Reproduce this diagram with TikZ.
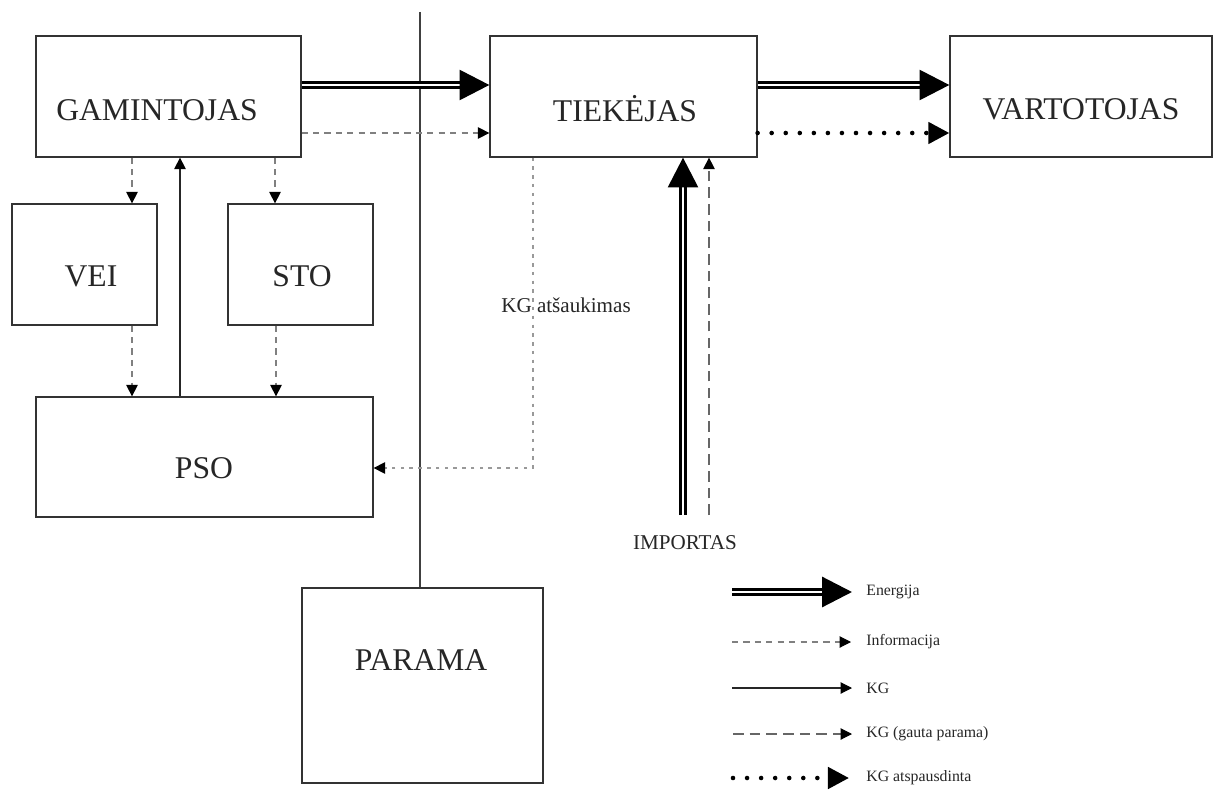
\documentclass[tikz,border=0pt]{standalone}
\usepackage{fontspec}
\setmainfont{Liberation Serif}
\usetikzlibrary{arrows.meta,fit}
\begin{document}
\begin{tikzpicture}[x=0.02cm,y=-0.02cm,
  box/.style={draw=black!80, line width=0.7pt, inner sep=0pt},
  boxtext/.style={font=\fontsize{18}{20}\selectfont, text=black!85, inner sep=0pt},
  small/.style={font=\fontsize{12}{14}\selectfont, text=black!85, inner sep=0pt},
  legtext/.style={font=\fontsize{9}{11}\selectfont, text=black!85, inner sep=0pt, anchor=west},
  energy/.style={draw=black, double=white, line width=1.8pt, double distance=1.1pt, -{Triangle[length=17pt,width=17pt]}},
  info/.style={draw=black!50, line width=0.6pt, dash pattern=on 3.5pt off 3pt, -{Triangle[length=6.5pt,width=6.5pt,color=black]}},
  kg/.style={draw=black!85, line width=0.6pt, -{Triangle[length=6.5pt,width=6.5pt,color=black]}},
  kgp/.style={draw=black!60, line width=0.6pt, dash pattern=on 6pt off 3.5pt, -{Triangle[length=6.5pt,width=6.5pt,color=black]}},
  kgd/.style={draw=black, line width=2.6pt, line cap=round, dash pattern=on 0pt off 8pt, -{Triangle[length=12pt,width=12pt]}},
  cancel/.style={draw=black!40, line width=0.6pt, dash pattern=on 2pt off 3pt, -{Triangle[length=6.5pt,width=6.5pt,color=black]}},
  sep/.style={draw=black!75, line width=0.6pt},
]
\useasboundingbox (0,0) rectangle (1214,794);
\fill[white] (0,0) rectangle (1214,794);

% boxes
\node[box, fit={(36,36) (301,157)}] (gam) {};
\node[box, fit={(490,36) (757,157)}] (tiek) {};
\node[box, fit={(950,36) (1212,157)}] (vart) {};
\node[box, fit={(12,204) (157,325)}] (vei) {};
\node[box, fit={(228,204) (373,325)}] (sto) {};
\node[box, fit={(36,397) (373,517)}] (pso) {};
\node[box, fit={(302,588) (543,783)}] (par) {};

% box texts
\node[boxtext] (gamT) at (157,110) {GAMINTOJAS};
\node[boxtext] (tiekT) at (625,109) {TIEKĖJAS};
\node[boxtext] (vartT) at (1081,109) {VARTOTOJAS};
\node[boxtext] (veiT) at (91,276) {VEI};
\node[boxtext] (stoT) at (302,276) {STO};
\node[boxtext] (psoT) at (204,468) {PSO};
\node[boxtext] (parT) at (421,660) {PARAMA};

% separator
\coordinate (sepTop) at (420,12);
\draw[sep] (sepTop) -- (par.north -| sepTop);

% top connectors
\draw[energy] (gam.east |- 0,85) -- (tiek.west |- 0,85);
\draw[info] (gam.east |- 0,133) -- (tiek.west |- 0,133);
\draw[energy] (tiek.east |- 0,85) -- (vart.west |- 0,85);
\draw[kgd] (tiek.east |- 0,133) -- (vart.west |- 0,133);

% left side
\draw[info] (gam.south -| 132,0) -- (vei.north -| 132,0);
\draw[info] (gam.south -| 275,0) -- (sto.north -| 275,0);
\draw[info] (vei.south -| 132,0) -- (pso.north -| 132,0);
\draw[info] (sto.south -| 276,0) -- (pso.north -| 276,0);
\draw[kg] (pso.north -| 180,0) -- (gam.south -| 180,0);

% cancellation
\draw[cancel] (tiek.south -| 533,0) |- (pso.east |- 0,468);
\node[small] (cancelT) at (566,305) {KG atšaukimas};

% import
\coordinate (impE) at (683,515);
\coordinate (impP) at (709,515);
\draw[energy] (impE) -- (tiek.south -| impE);
\draw[kgp] (impP) -- (tiek.south -| impP);
\node[small] (impT) at (685,543) {IMPORTAS};

% legend
\coordinate (l1a) at (732,592); \coordinate (l1b) at (852,592);
\coordinate (l2a) at (732,642); \coordinate (l2b) at (851,642);
\coordinate (l3a) at (732,688); \coordinate (l3b) at (852,688);
\coordinate (l4a) at (733,734); \coordinate (l4b) at (852,734);
\coordinate (l5a) at (733,778); \coordinate (l5b) at (849,778);
\draw[energy] (l1a) -- (l1b);
\draw[info] (l2a) -- (l2b);
\draw[kg] (l3a) -- (l3b);
\draw[kgp] (l4a) -- (l4b);
\draw[kgd] (l5a) -- (l5b);
\node[legtext] (t1) at (866,592) {Energija};
\node[legtext] (t2) at (866,642) {Informacija};
\node[legtext] (t3) at (866,688) {KG};
\node[legtext] (t4) at (866,734) {KG (gauta parama)};
\node[legtext] (t5) at (866,778) {KG atspausdinta};
\end{tikzpicture}
\end{document}
